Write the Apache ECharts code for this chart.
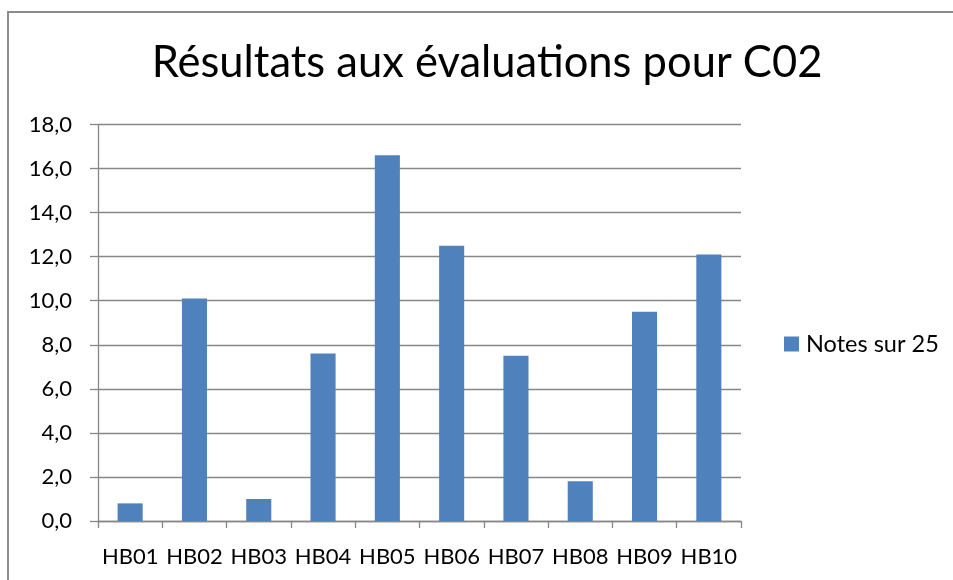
<!DOCTYPE html>
<html>
<head>
<meta charset="utf-8">
<script src="https://cdn.jsdelivr.net/npm/echarts@6/dist/echarts.min.js"></script>
<style>
  html, body { margin: 0; padding: 0; background: #fff; }
  #chart { width: 953px; height: 580px; }
</style>
</head>
<body>
<div id="chart"></div>
<script>
// Students and their scores (out of 25) for assessment C02
const categories = ['HB01', 'HB02', 'HB03', 'HB04', 'HB05', 'HB06', 'HB07', 'HB08', 'HB09', 'HB10'];
const notes = [0.8, 10.1, 1.0, 7.6, 16.6, 12.5, 7.5, 1.8, 9.5, 12.1];
const seriesName = 'Notes sur 25';
const titleText = 'Résultats aux évaluations pour C02';

const FONT = 'Lato, "Open Sans", sans-serif';
const GRID_COLOR = '#878787';

const chart = echarts.init(document.getElementById('chart'), null, { renderer: 'canvas' });

chart.setOption({
  animation: false,
  backgroundColor: '#ffffff',
  title: {
    text: titleText,
    left: 487,
    textAlign: 'center',
    top: 41,
    padding: 0,
    textStyle: { fontFamily: FONT, fontWeight: 'normal', fontSize: 43.5, color: '#000' }
  },
  legend: {
    data: [seriesName],
    orient: 'vertical',
    left: 784,
    top: 332,
    padding: 0,
    itemWidth: 15,
    itemHeight: 15,
    icon: 'rect',
    textStyle: { fontFamily: FONT, fontSize: 23.5, color: '#000', padding: [0, 0, 0, 2] }
  },
  grid: { left: 98, right: 212, top: 124.5, bottom: 59, containLabel: false },
  xAxis: {
    type: 'category',
    data: categories,
    axisLine: { lineStyle: { color: GRID_COLOR, width: 1.3 } },
    axisTick: { show: true, length: 7, lineStyle: { color: GRID_COLOR, width: 1.3 } },
    axisLabel: { fontFamily: FONT, fontSize: 22, color: '#000', margin: 25, interval: 0 }
  },
  yAxis: {
    type: 'value',
    min: 0,
    max: 18,
    interval: 2,
    axisLine: { show: true, lineStyle: { color: GRID_COLOR, width: 1.3 } },
    axisTick: { show: true, length: 8, lineStyle: { color: GRID_COLOR, width: 1.3 } },
    splitLine: { lineStyle: { color: GRID_COLOR, width: 1.3 } },
    axisLabel: {
      fontFamily: FONT, fontSize: 22, color: '#000', margin: 26,
      formatter: v => v.toFixed(1).replace('.', ',')
    }
  },
  series: [{
    name: seriesName,
    type: 'bar',
    data: notes,
    barWidth: '39%',
    itemStyle: { color: '#4f81bd' }
  }],
  graphic: [{
    type: 'rect',
    shape: { x: 8, y: 12, width: 1000, height: 700 },
    style: { fill: null, stroke: '#8c8c8c', lineWidth: 2 },
    silent: true,
    z: 100
  }]
});
</script>
</body>
</html>
